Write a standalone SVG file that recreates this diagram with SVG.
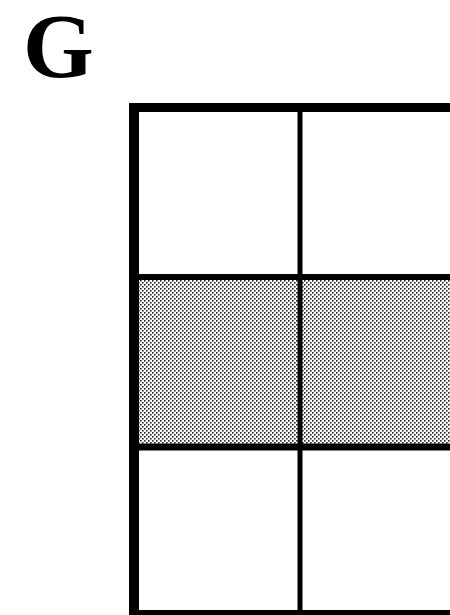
<svg xmlns="http://www.w3.org/2000/svg" width="450" height="615" viewBox="0 0 450 615">
<defs>
<pattern id="stip" width="4" height="4" patternUnits="userSpaceOnUse">
<rect width="4" height="4" fill="#ffffff"/>
<rect x="0" y="0" width="1.6" height="1.6" fill="#2a2a2a"/>
<rect x="2" y="2" width="1.6" height="1.6" fill="#2a2a2a"/>
</pattern>
<style>
.ln{stroke:#000;fill:none}
.lbl{font-family:"Liberation Serif","Times New Roman",serif;font-weight:bold;fill:#000}
</style>
</defs>
<rect width="450" height="615" fill="#fff"/>
<text class="lbl" x="23" y="77" font-size="91">G</text>
<g id="shaded">
<rect x="139" y="280" width="311" height="164" fill="url(#stip)"/>
</g>
<g id="grid">
<line class="ln" x1="134" y1="103" x2="134" y2="615" stroke-width="10"/>
<line class="ln" x1="129" y1="107.5" x2="450" y2="107.5" stroke-width="9"/>
<line class="ln" x1="300" y1="107" x2="300" y2="615" stroke-width="5"/>
<line class="ln" x1="134" y1="277" x2="450" y2="277" stroke-width="6"/>
<line class="ln" x1="134" y1="447" x2="450" y2="447" stroke-width="7"/>
<line class="ln" x1="134" y1="612.5" x2="450" y2="612.5" stroke-width="5"/>
</g>
</svg>
